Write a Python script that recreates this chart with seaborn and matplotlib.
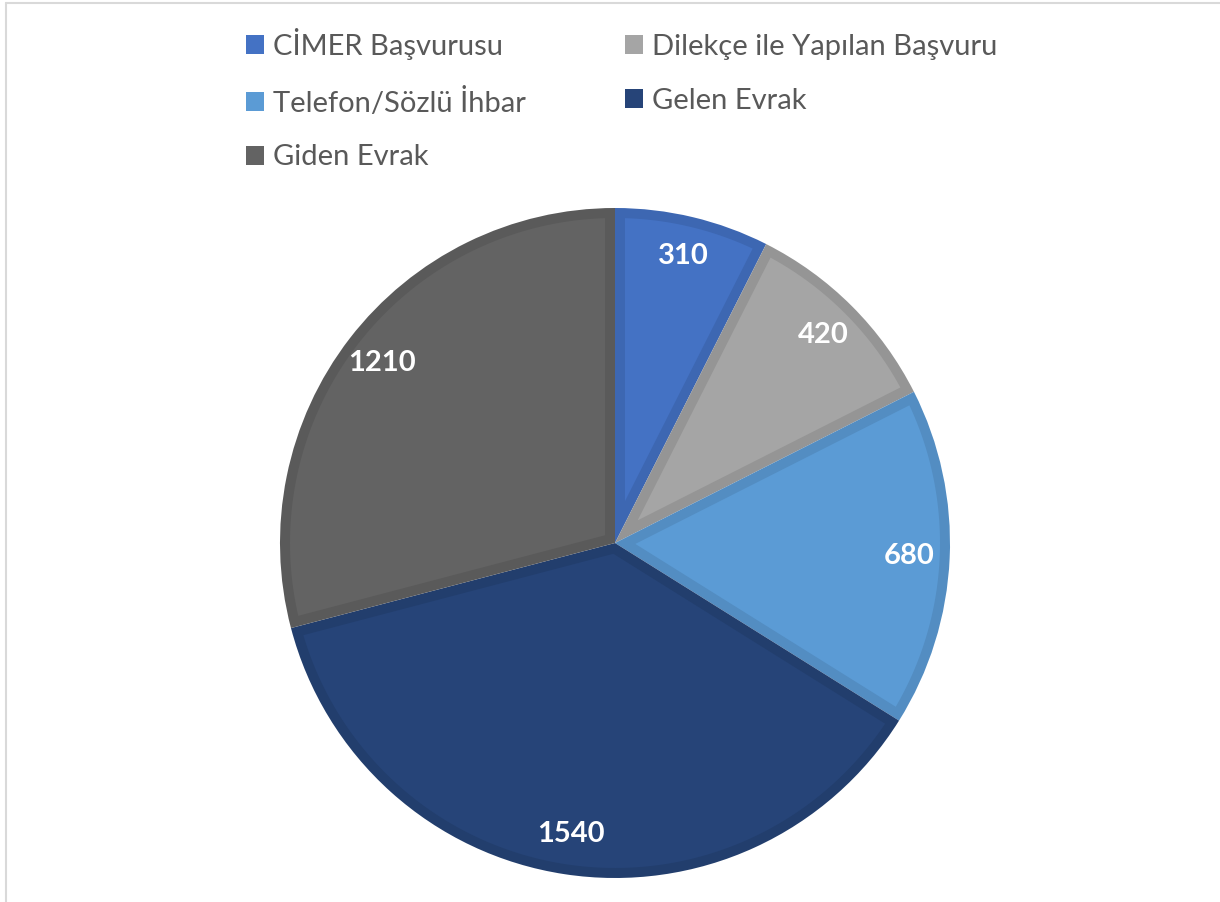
import matplotlib
matplotlib.use("Agg")
import numpy as np
import matplotlib.pyplot as plt
from matplotlib.patches import Patch, Polygon
from matplotlib.lines import Line2D
import seaborn as sns

categories = ["CİMER Başvurusu", "Dilekçe ile Yapılan Başvuru", "Telefon/Sözlü İhbar",
              "Gelen Evrak", "Giden Evrak"]
values = [310, 420, 680, 1540, 1210]
fill_colors = ["#4472C4", "#A5A5A5", "#5B9BD5", "#264478", "#636363"]
edge_colors = ["#3D67B2", "#959595", "#538DC2", "#223E6D", "#5A5A5A"]

sns.set_theme(style="white")
plt.rcParams["font.family"] = ["Lato", "DejaVu Sans"]

W, H = 1220, 902
fig = plt.figure(figsize=(W / 100, H / 100), dpi=100)
fig.patch.set_facecolor("white")

# square axes holding the pie: centre (615, 543) px, radius 335 px
cx, cy, r = 615, 543, 335
ax = fig.add_axes([(cx - r) / W, (H - cy - r) / H, 2 * r / W, 2 * r / H])
wedges, _ = ax.pie(values, colors=edge_colors, startangle=90, counterclock=False,
                   radius=1.0, wedgeprops=dict(linewidth=0))

# each slice gets an inner border: fill an inset copy of the wedge with the main colour
inset = 10 / r
for w, fc in zip(wedges, fill_colors):
    t1, t2, R = w.theta1, w.theta2, w.r
    half = np.deg2rad((t2 - t1) / 2)
    bis = np.deg2rad((t1 + t2) / 2)
    dc = inset / np.sin(half)
    alpha = np.rad2deg(np.arcsin(inset / (R - inset)))
    arc = np.deg2rad(np.linspace(t1 + alpha, t2 - alpha, 200))
    pts = [(dc * np.cos(bis), dc * np.sin(bis))]
    pts += list(zip((R - inset) * np.cos(arc), (R - inset) * np.sin(arc)))
    ax.add_patch(Polygon(pts, closed=True, facecolor=fc, edgecolor="none"))

ax.set_xlim(-1, 1)
ax.set_ylim(-1, 1)
ax.set_aspect("equal")
ax.axis("off")

# value labels inside each slice
for w, v in zip(wedges, values):
    mid = np.deg2rad((w.theta1 + w.theta2) / 2)
    d = 0.88
    ax.text(d * np.cos(mid), d * np.sin(mid), f"{v}", ha="center", va="center",
            color="white", fontsize=21, fontweight="bold")

# legend filled row by row in two columns
order = [0, 2, 4, 1, 3]
handles = [Patch(facecolor=fill_colors[i], edgecolor="none") for i in order]
labels = [categories[i] for i in order]
leg = fig.legend(handles, labels, ncol=2, loc="upper left",
                 bbox_to_anchor=(246 / W, 1 - 28 / H), frameon=False,
                 borderpad=0, borderaxespad=0,
                 fontsize=21, handlelength=0.62, handleheight=0.62,
                 handletextpad=0.3, columnspacing=3.4, labelspacing=0.95)
for t in leg.get_texts():
    t.set_color("#595959")

# chart-area border visible along the top and left
fig.add_artist(Line2D([6 / W, 1], [1 - 3 / H, 1 - 3 / H], color="#D9D9D9", lw=1.5))
fig.add_artist(Line2D([6 / W, 6 / W], [0, 1 - 3 / H], color="#D9D9D9", lw=1.5))

fig.savefig("out.png", dpi=100, facecolor="white")
